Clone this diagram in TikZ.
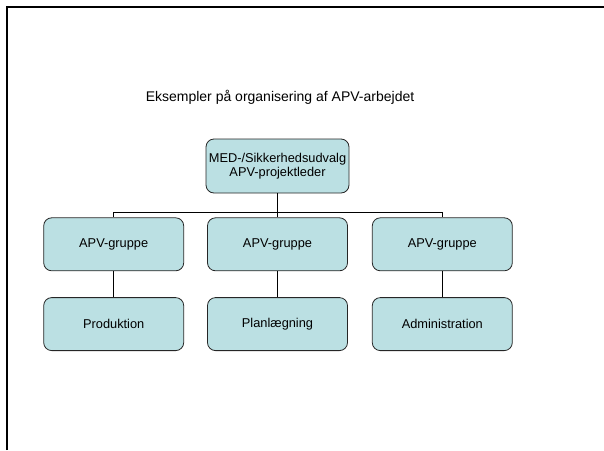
\documentclass[tikz,border=0pt]{standalone}
\usepackage{fontspec}
\setmainfont{Liberation Sans}
\usetikzlibrary{positioning}
\definecolor{boxfill}{RGB}{187,224,227}

\begin{document}
\begin{tikzpicture}[
  x=1pt, y=-1pt,
  font=\fontsize{12.8}{14}\selectfont,
  unit/.style={draw=black!85, fill=boxfill, rounded corners=8pt, minimum width=140pt, minimum height=53pt, align=center, inner sep=1pt, line width=0.8pt},
  link/.style={draw, line width=1.5pt},
  sublink/.style={draw, line width=1pt},
]
\useasboundingbox (0,0) rectangle (604,450);

% frame, only its top and left edges fall on the page
\draw[line width=2pt] (6.5,450) -- (6.5,6.5) -- (604,6.5);

% title
\node[font=\fontsize{14}{16}\selectfont] (titel) at (280,97) {Eksempler på organisering af APV-arbejdet};

% top of the tree
\node[unit, minimum width=143pt, minimum height=54pt] (leder) at (277.5,166) {MED-/Sikkerhedsudvalg\\APV-projektleder};

% APV groups
\node[unit, below=24pt of leder]  (gruppeB) {APV-gruppe};
\node[unit, left=23pt of gruppeB] (gruppeA) {APV-gruppe};
\node[unit, right=24pt of gruppeB] (gruppeC) {APV-gruppe};

% areas
\node[unit, below=26pt of gruppeA] (prod)  {Produktion};
\node[unit, below=26pt of gruppeB] (plan)  {Planlægning};
\node[unit, below=26pt of gruppeC] (admin) {Administration};

% connectors
\draw[link] (leder.south) -- ++(0,19) -| (gruppeA.north);
\draw[link] (leder.south) -- (gruppeB.north);
\draw[link] (leder.south) -- ++(0,19) -| (gruppeC.north);
\draw[sublink] (gruppeA) -- (prod);
\draw[sublink] (gruppeB) -- (plan);
\draw[sublink] (gruppeC) -- (admin);

\end{tikzpicture}
\end{document}
